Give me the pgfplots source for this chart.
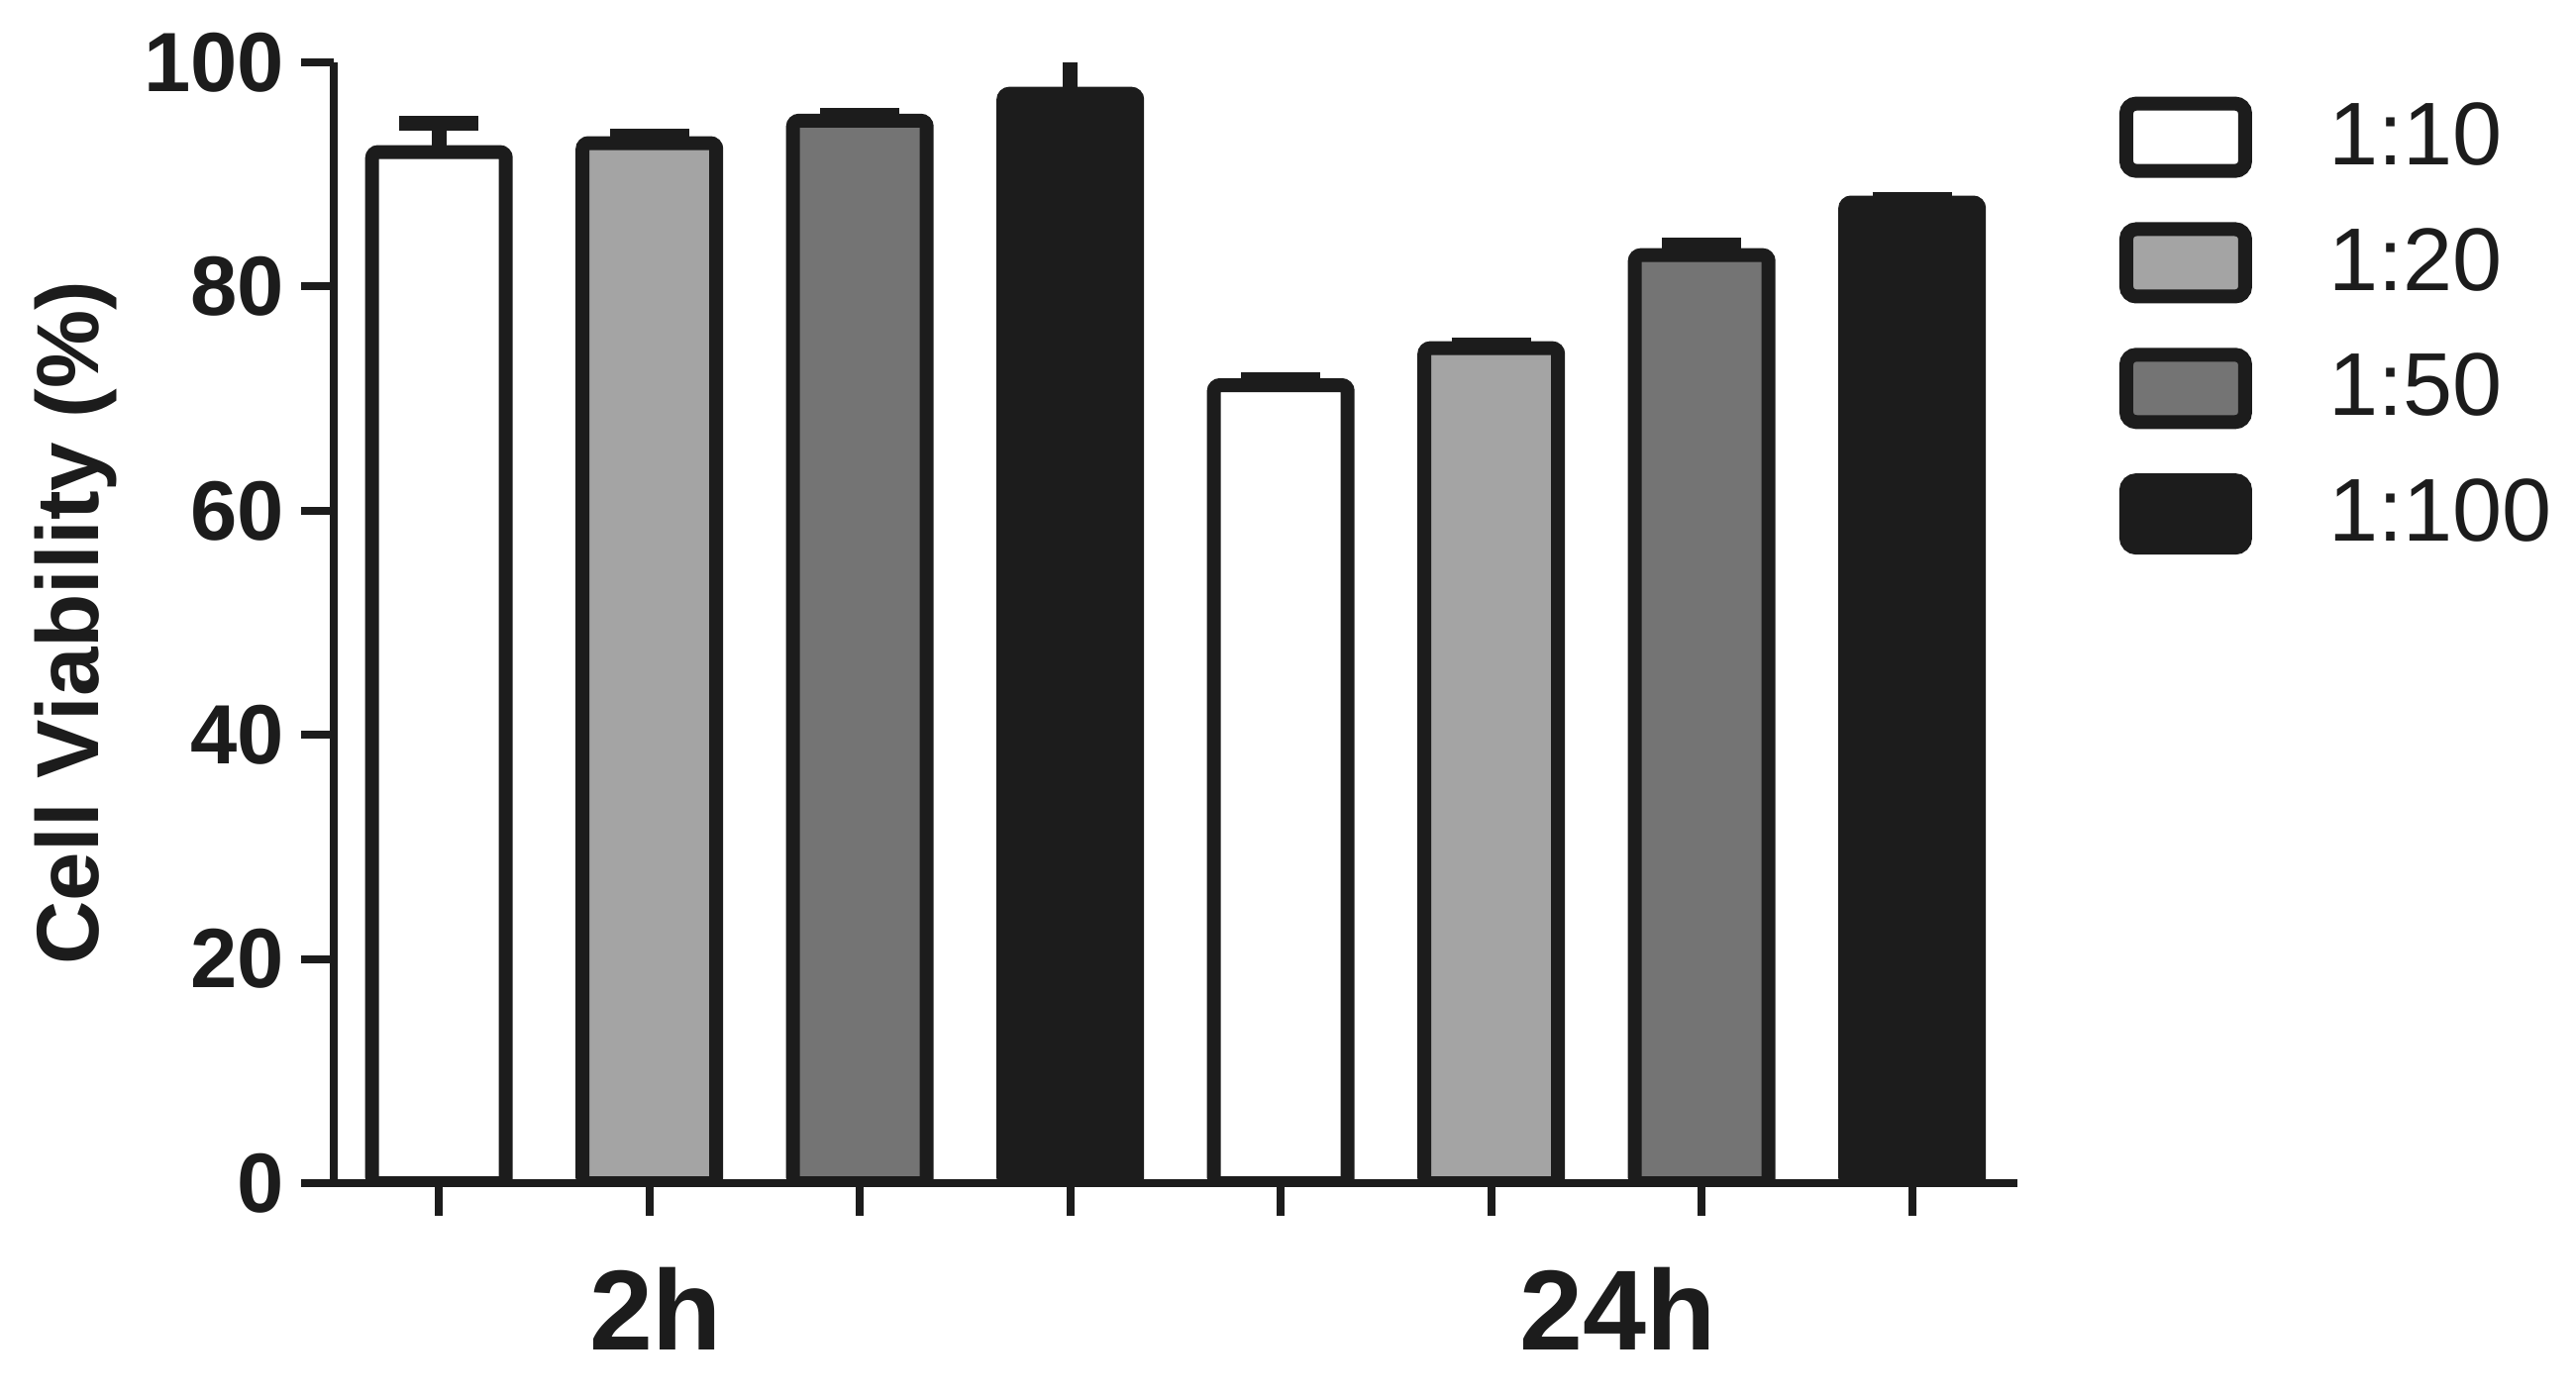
\documentclass[border=0pt]{standalone}
\usepackage{fontspec}
\setmainfont{Liberation Sans}
\usepackage{pgfplots}
\pgfplotsset{compat=1.18}

\definecolor{ink}{HTML}{1C1C1C}
\definecolor{lightgrey}{HTML}{A4A4A4}
\definecolor{midgrey}{HTML}{747474}

\pgfplotsset{
  vbar/.style={
    ybar, bar width=27pt, bar shift=0pt,
    draw=ink, line width=2.8pt, fill=#1, rounded corners=1.2pt,
    error bars/.cd, y dir=plus, y explicit,
      error bar style={line width=3pt, color=ink, sharp corners},
      error mark options={rotate=90, mark size=8pt, line width=3pt, color=ink},
    /pgfplots/.cd,
    legend image code/.code={
      \draw[draw=ink, fill=#1, line width=2.8pt, rounded corners=2pt] (0pt,-6.8pt) rectangle (24pt,6.8pt);
      \path (37.5pt,0pt);}
  }
}

\begin{document}
\begin{tikzpicture}
\path (-67.4pt,-43pt) rectangle (452.8pt,239pt);
\begin{axis}[
  width=340pt, height=226.4pt, scale only axis,
  xmin=0.5, xmax=8.5, ymin=0, ymax=100,
  axis x line*=bottom, axis y line*=left,
  axis line style={line width=1.6pt, color=ink},
  tick style={line width=1.6pt, color=ink},
  tick align=outside, major tick length=6.5pt,
  xtick={1,2,3,4,5,6,7,8}, xticklabels={},
  ytick={0,20,40,60,80,100},
  /pgf/number format/assume math mode=true,
  yticklabel style={font=\bfseries\fontsize{17}{17}\selectfont, text=ink},
  extra x ticks={2.03,6.6},
  extra x tick labels={2h,24h},
  extra x tick style={major tick length=0pt,
    tick label style={font=\bfseries\fontsize{23}{23}\selectfont, text=ink, yshift=-13.5pt}},
  ylabel={Cell Viability (\%)},
  ylabel style={font=\bfseries\fontsize{17.8}{17.8}\selectfont, text=ink,
    at={(axis description cs:-0.153,0.5)}, anchor=center},
  legend style={draw=none, fill=none, at={(axis description cs:1.06,0.974)}, anchor=north west,
    font=\fontsize{18}{18}\selectfont, text=ink, row sep=7.3pt, inner sep=0pt},
  legend cell align=left,
]
\addplot[vbar=white] coordinates {(1,92.0) +- (0,2.6) (5,71.2) +- (0,0.45)};
\addlegendentry{1:10}
\addplot[vbar=lightgrey] coordinates {(2,92.8) +- (0,0.6) (6,74.5) +- (0,0.3)};
\addlegendentry{1:20}
\addplot[vbar=midgrey] coordinates {(3,94.8) +- (0,0.5) (7,82.8) +- (0,0.9)};
\addlegendentry{1:50}
\addplot[vbar=ink] coordinates {(4,97.2) +- (0,3.8) (8,87.5) +- (0,0.3)};
\addlegendentry{1:100}
\end{axis}
\end{tikzpicture}
\end{document}
